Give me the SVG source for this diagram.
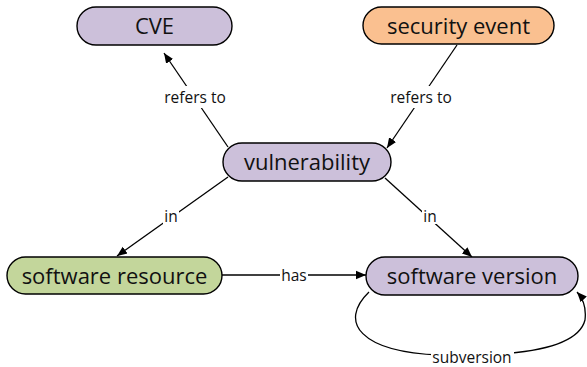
<svg xmlns="http://www.w3.org/2000/svg" width="587" height="367" viewBox="0 0 587 367">
<style>
.node rect{stroke:#000;stroke-width:1.4}
.node text{font-family:"Open Sans","Liberation Sans",sans-serif;font-size:22px;text-anchor:middle;fill:#111}
.purple{fill:#ccc0da}
.orange{fill:#fac090}
.green{fill:#c3d69b}
.edge{stroke:#000;stroke-width:1.3;fill:none}
.lbl{font-family:"Open Sans","Liberation Sans",sans-serif;font-size:15.5px;text-anchor:middle;fill:#111}
.bg{fill:#fff}
</style>
<defs>
<marker id="arr" viewBox="0 0 10 10" refX="10" refY="5" markerWidth="10" markerHeight="10" markerUnits="userSpaceOnUse" orient="auto">
<path d="M0,0.8 L10,5 L0,9.2 Z" fill="#000"/>
</marker>
</defs>
<g id="connectors">
<line class="edge" x1="228" y1="147" x2="164" y2="53" marker-end="url(#arr)"/>
<line class="edge" x1="457" y1="45" x2="387" y2="148" marker-end="url(#arr)"/>
<line class="edge" x1="228" y1="177" x2="117" y2="256" marker-end="url(#arr)"/>
<line class="edge" x1="385" y1="178" x2="472" y2="257" marker-end="url(#arr)"/>
<line class="edge" x1="222" y1="275" x2="366" y2="275" marker-end="url(#arr)"/>
<path class="edge" d="M369,292 C338,322 360,352 440,355 C520,357 578,348 585,320 Q587,303 577,292" marker-end="url(#arr)"/>
<rect class="bg" x="160" y="86" width="70" height="22"/>
<text class="lbl" x="195" y="103">refers to</text>
<rect class="bg" x="386" y="86" width="70" height="22"/>
<text class="lbl" x="421" y="103">refers to</text>
<rect class="bg" x="163" y="206" width="16" height="18"/>
<text class="lbl" x="171" y="222">in</text>
<rect class="bg" x="422" y="206" width="16" height="18"/>
<text class="lbl" x="430" y="222">in</text>
<rect class="bg" x="280" y="265" width="28" height="20"/>
<text class="lbl" x="294" y="281">has</text>
<rect class="bg" x="431" y="347" width="83" height="20"/>
<text class="lbl" x="472" y="363">subversion</text>
</g>
<g id="cve" class="node"><rect class="purple" x="77" y="7" width="155" height="38" rx="19"/><text x="154.5" y="34">CVE</text></g>
<g id="security-event" class="node"><rect class="orange" x="363" y="7" width="191" height="37" rx="18.5"/><text x="458.5" y="33.5">security event</text></g>
<g id="vulnerability" class="node"><rect class="purple" x="223" y="143" width="168" height="38" rx="19"/><text x="307" y="170">vulnerability</text></g>
<g id="software-resource" class="node"><rect class="green" x="7" y="257" width="215" height="37" rx="18.5"/><text x="114.5" y="283.5">software resource</text></g>
<g id="software-version" class="node"><rect class="purple" x="366" y="257" width="212" height="38" rx="19"/><text x="472" y="284">software version</text></g>
</svg>
